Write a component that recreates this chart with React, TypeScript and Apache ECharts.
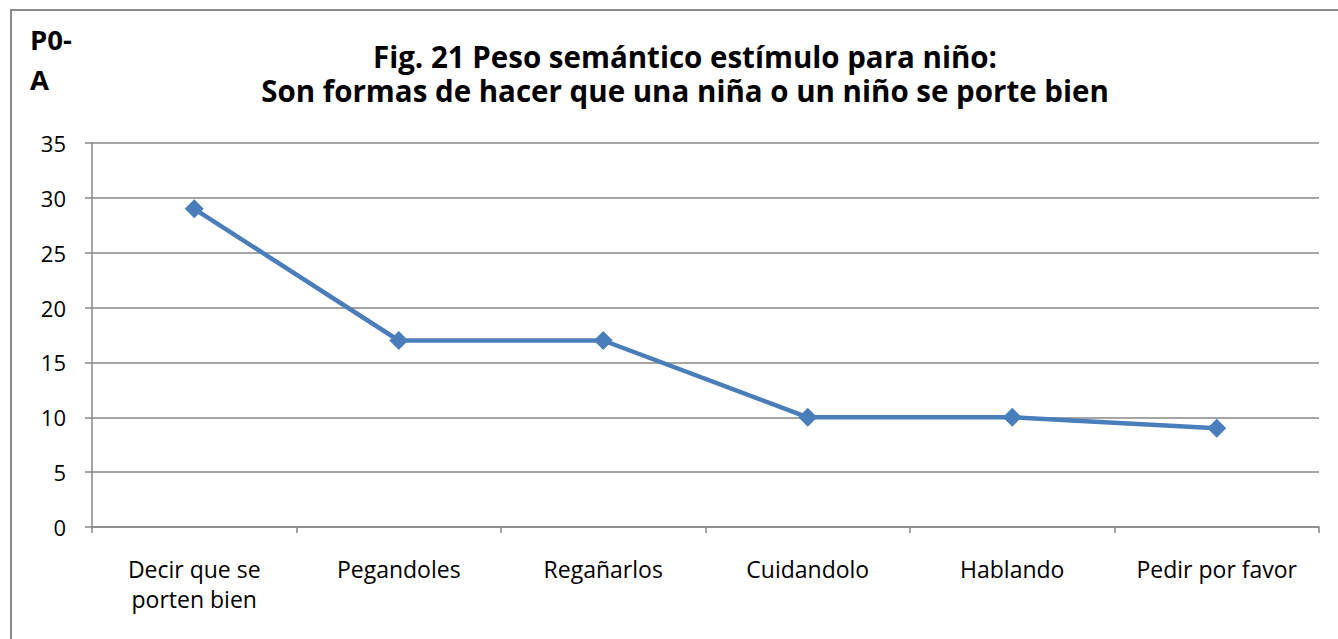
import React, { useEffect, useRef } from "react";
import * as echarts from "echarts";

const categories = ["Decir que se\nporten bien", "Pegandoles", "Regañarlos", "Cuidandolo", "Hablando", "Pedir por favor"];
const values = [29, 17, 17, 10, 10, 9];
const titleLines = ["Fig. 21 Peso semántico estímulo para niño:", "Son formas de hacer que una niña o un niño se porte bien"];
const cornerLabel = "P0-\nA";

const FONT = "'Open Sans', Lato, sans-serif";

export default function App() {
  const ref = useRef<HTMLDivElement>(null);
  useEffect(() => {
    const chart = echarts.init(ref.current!, null, { renderer: "svg" });
    chart.setOption({
      animation: false,
      backgroundColor: "#ffffff",
      title: {
        text: titleLines.join("\n"),
        left: 680,
        textAlign: "center",
        top: 34,
        textStyle: { fontFamily: FONT, fontSize: 29.5, fontWeight: "bold", color: "#000", lineHeight: 34 },
      },
      graphic: [
        {
          type: "rect",
          shape: { x: 11, y: 10, width: 1340, height: 640 },
          style: { fill: "none", stroke: "#8a8a8a", lineWidth: 2 },
          silent: true,
        },
        {
          type: "text",
          left: 30,
          top: 19,
          style: { text: cornerLabel, fontFamily: FONT, fontSize: 27.5, fontWeight: "bold", fill: "#000", lineHeight: 40 },
        },
      ],
      grid: { left: 92, right: 19, top: 143, bottom: 112, containLabel: false },
      xAxis: {
        type: "category",
        data: categories,
        boundaryGap: true,
        axisLine: { lineStyle: { color: "#878787", width: 1.5 } },
        axisTick: { show: true, length: 6, lineStyle: { color: "#878787", width: 1.5 } },
        axisLabel: { fontFamily: FONT, fontSize: 23, color: "#000", margin: 27, lineHeight: 30, interval: 0 },
      },
      yAxis: {
        type: "value",
        min: 0,
        max: 35,
        interval: 5,
        axisLine: { show: true, lineStyle: { color: "#878787", width: 1.5 } },
        axisTick: { show: true, length: 7, lineStyle: { color: "#878787", width: 1.5 } },
        splitLine: { lineStyle: { color: "#878787", width: 1.5 } },
        axisLabel: { fontFamily: FONT, fontSize: 22, color: "#000", margin: 26 },
      },
      series: [
        {
          type: "line",
          data: values,
          symbol: "diamond",
          symbolSize: 19,
          lineStyle: { color: "#4a7ebb", width: 4.5 },
          itemStyle: { color: "#4a7ebb" },
        },
      ],
    });
    return () => chart.dispose();
  }, []);
  return <div ref={ref} style={{ position: "fixed", left: 0, top: 0, width: 1338, height: 639 }} />;
}
